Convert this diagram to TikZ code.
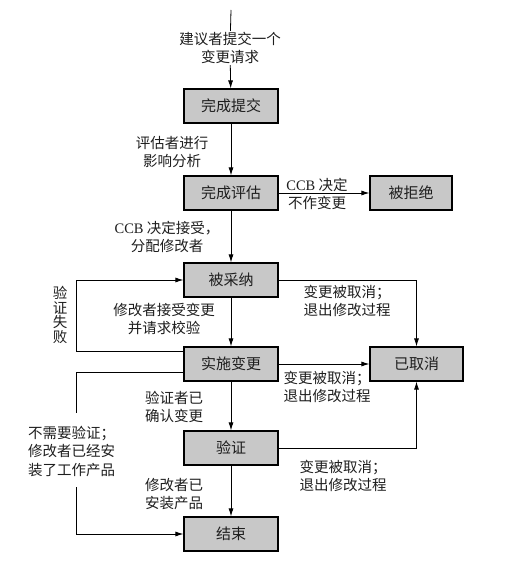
\documentclass[tikz,border=0pt]{standalone}
\usepackage{fontspec}
\setmainfont{Liberation Serif}
\newfontfamily\cjk{Noto Sans CJK SC}
\usetikzlibrary{arrows.meta}
\definecolor{boxgray}{RGB}{200,200,200}
\definecolor{txt}{RGB}{30,30,30}
\begin{document}
\begin{tikzpicture}[x=1pt,y=-1pt,
  box/.style={draw=black, line width=1.2pt, fill=boxgray, minimum width=94pt, minimum height=34pt, inner sep=0pt, text=txt, font=\cjk\fontsize{15}{18}\selectfont},
  lbl/.style={align=center, inner sep=1pt, text=txt, font=\cjk\fontsize{14.5}{18.5}\selectfont},
  arr/.style={-{Latex[length=8pt,width=5pt]}, line width=0.8pt},
  ln/.style={line width=0.8pt}]
\useasboundingbox (0,0) rectangle (507,561);
% boxes
\node[box] (sub) at (231,106) {完成提交};
\node[box] (eval) at (231,193) {完成评估};
\node[box, minimum width=82pt] (rej) at (411,193) {被拒绝};
\node[box] (adopt) at (231,280) {被采纳};
\node[box] (impl) at (231,364) {实施变更};
\node[box, minimum width=93pt] (cancel) at (416.5,364) {已取消};
\node[box] (verify) at (231,448) {验证};
\node[box] (done) at (231,534) {结束};
% labels
\node[lbl] (l0) at (230,48) {建议者提交一个\\变更请求};
\node[lbl] (l1) at (172,152) {评估者进行\\影响分析};
\node[lbl] (l2) at (317,194) {{\rmfamily CCB} 决定\\不作变更};
\node[lbl] (l3) at (167,237) {{\rmfamily CCB} 决定接受，\\分配修改者};
\node[lbl] (l4) at (164,319) {修改者接受变更\\并请求校验};
\node[lbl] (l5) at (347,301) {变更被取消；\\退出修改过程};
\node[lbl] (l6) at (327,387) {变更被取消；\\退出修改过程};
\node[lbl] (l7) at (343,476) {变更被取消；\\退出修改过程};
\node[lbl] (l8) at (174,407) {验证者已\\确认变更};
\node[lbl] (l9) at (174,494) {修改者已\\安装产品};
\node[lbl, align=left, anchor=west] (l10) at (27,451) {不需要验证；\\修改者已经安\\装了工作产品};
\node[lbl, font=\cjk\fontsize{14.5}{14.5}\selectfont] (l11) at (60,315) {验\\证\\失\\败};
% coordinates
\coordinate (start) at (231,10);
\coordinate (fl) at (76,280);
\coordinate (n1) at (76,413);
\coordinate (n2) at (76,487);
% connectors
\draw[ln] (start) -- (l0);
\draw[arr] (l0) -- (sub);
\draw[arr] (sub) -- (eval);
\draw[arr] (eval) -- (rej);
\draw[arr] (eval) -- (adopt);
\draw[arr] (adopt) -- (impl);
\draw[arr] (adopt.east) -| (cancel.north);
\draw[arr] (impl) -- (cancel);
\draw[arr] (verify.east) -| (cancel.south);
\draw[arr] (impl) -- (verify);
\draw[arr] (verify) -- (done);
\draw[arr] ([yshift=13pt]impl.west) -| (fl) -- (adopt.west);
\draw[ln] ([yshift=-8pt]impl.west) -| (n1);
\draw[arr] (n2) |- (done.west);
\end{tikzpicture}
\end{document}
